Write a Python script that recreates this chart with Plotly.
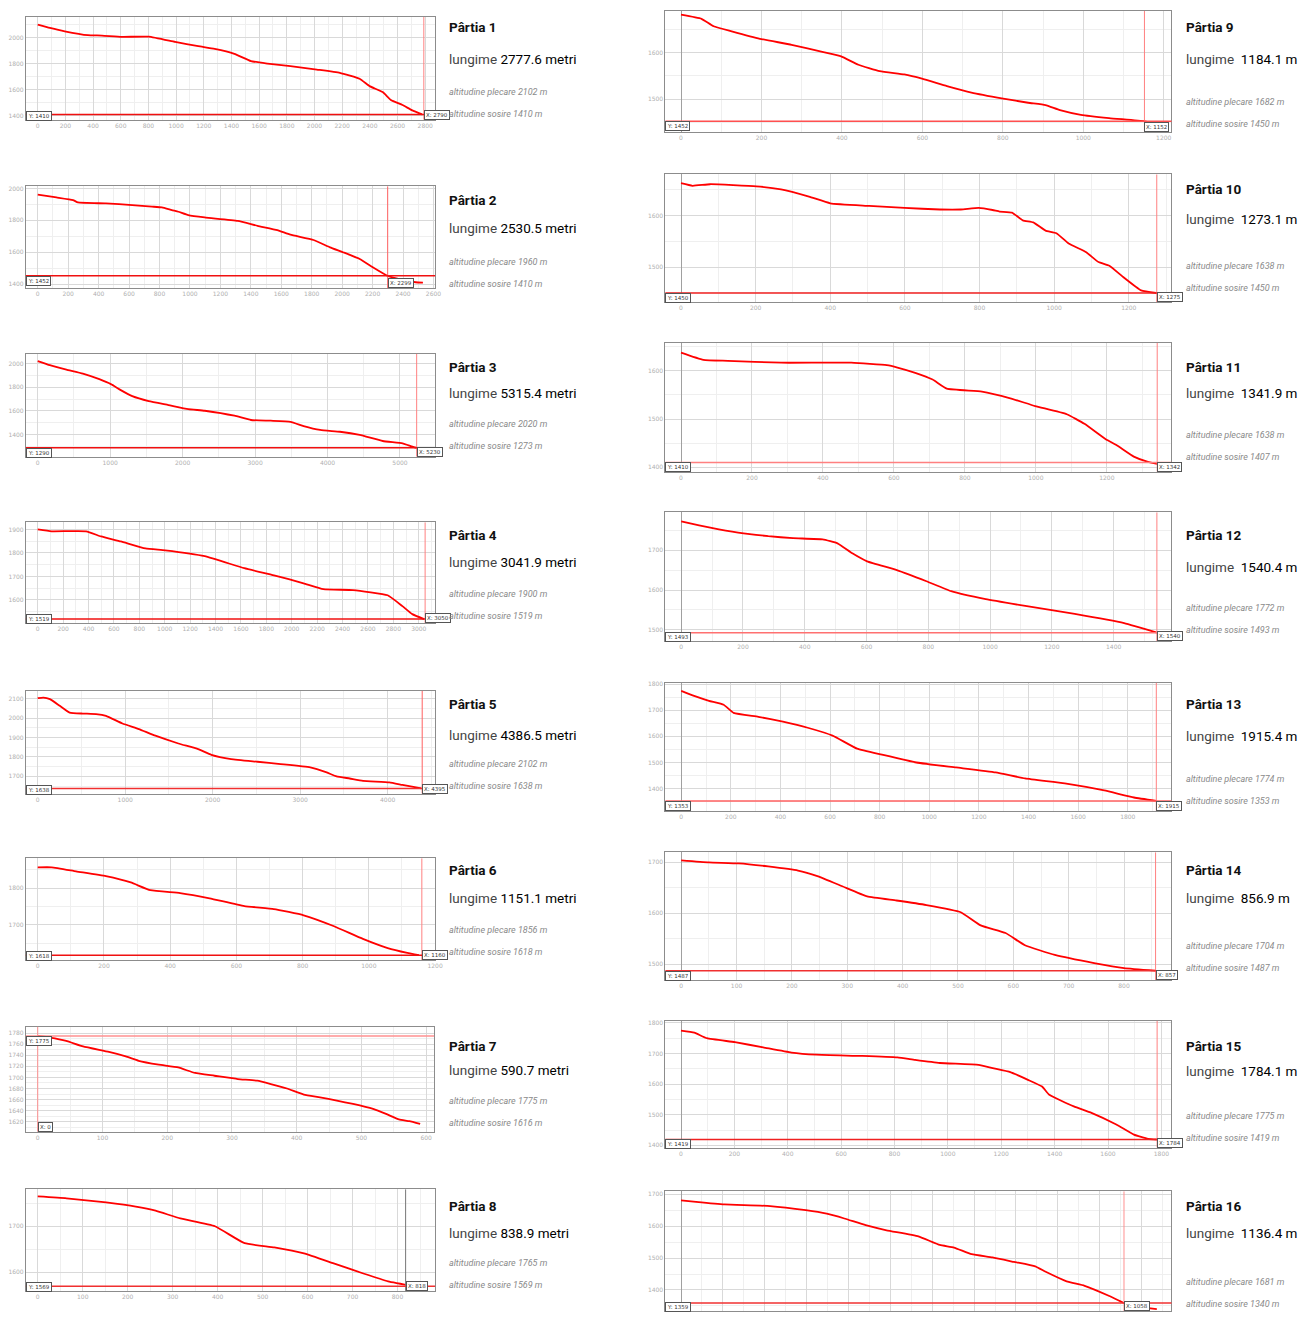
import plotly.graph_objects as go

# page body adds an 8px margin on every side: keep the figure inside the window
OFF = 8
PAGE_W, PAGE_H = 1313, 1320
W, H = PAGE_W - 2 * OFF, PAGE_H - 2 * OFF

# ---------------- data ----------------
NAMES = ["Pârtia 1", "Pârtia 2", "Pârtia 3", "Pârtia 4", "Pârtia 5", "Pârtia 6", "Pârtia 7", "Pârtia 8",
         "Pârtia 9", "Pârtia 10", "Pârtia 11", "Pârtia 12", "Pârtia 13", "Pârtia 14", "Pârtia 15", "Pârtia 16"]
LENGTHS = [2777.6, 2530.5, 5315.4, 3041.9, 4386.5, 1151.1, 590.7, 838.9,
           1184.1, 1273.1, 1341.9, 1540.4, 1915.4, 856.9, 1784.1, 1136.4]
LENGTH_UNIT = ["metri"] * 8 + ["m"] * 8
START_ALT = [2102, 1960, 2020, 1900, 2102, 1856, 1775, 1765, 1682, 1638, 1638, 1772, 1774, 1704, 1775, 1681]
END_ALT = [1410, 1410, 1273, 1519, 1638, 1618, 1616, 1569, 1450, 1450, 1407, 1493, 1353, 1487, 1419, 1340]
CURSOR_X = [2790, 2299, 5230, 3050, 4395, 1160, 0, 818, 1152, 1275, 1342, 1540, 1915, 857, 1784, 1058]
CURSOR_Y = [1410, 1452, 1290, 1519, 1638, 1618, 1775, 1569, 1452, 1450, 1410, 1493, 1353, 1487, 1419, 1359]

P1_DIST = [0, 88, 195, 362, 464, 607, 802, 993, 1160, 1279, 1421, 1541, 1660, 1826, 2017, 2183, 2326, 2398, 2493, 2552, 2636, 2707, 2777.6]
P1_ELEV = [2102, 2077, 2051, 2021, 2018, 2008, 2010, 1969, 1936, 1915, 1877, 1821, 1802, 1782, 1756, 1731, 1685, 1628, 1582, 1521, 1482, 1441, 1410]
P2_DIST = [0, 123, 232, 264, 448, 621, 751, 816, 881, 924, 989, 1097, 1314, 1444, 1574, 1660, 1812, 1920, 2006, 2115, 2201, 2299, 2396, 2483, 2530.5]
P2_ELEV = [1962, 1944, 1927, 1912, 1906, 1896, 1886, 1881, 1864, 1854, 1833, 1818, 1797, 1766, 1739, 1710, 1677, 1631, 1600, 1558, 1506, 1452, 1427, 1412, 1410]
P3_DIST = [0, 168, 396, 623, 850, 1010, 1146, 1305, 1532, 1805, 2078, 2306, 2715, 2943, 3216, 3489, 3670, 3898, 4171, 4444, 4762, 5035, 5171, 5298, 5315.4]
P3_ELEV = [2020, 1985, 1948, 1914, 1867, 1825, 1775, 1724, 1682, 1649, 1615, 1601, 1559, 1523, 1517, 1508, 1472, 1439, 1424, 1397, 1346, 1326, 1298, 1276, 1273]
P4_DIST = [0, 109, 381, 498, 654, 848, 1004, 1315, 1626, 1860, 2093, 2249, 2482, 2755, 2871, 2949, 3041.9]
P4_ELEV = [1900, 1892, 1892, 1870, 1849, 1819, 1811, 1786, 1735, 1705, 1671, 1646, 1642, 1620, 1574, 1540, 1519]
P5_DIST = [0, 64, 139, 252, 365, 516, 667, 780, 968, 1156, 1345, 1608, 1834, 1985, 2211, 2512, 2776, 3115, 3303, 3416, 3567, 3718, 4019, 4169, 4386.5]
P5_ELEV = [2102, 2105, 2097, 2063, 2028, 2023, 2020, 2011, 1972, 1943, 1909, 1869, 1840, 1811, 1789, 1775, 1763, 1746, 1720, 1700, 1689, 1677, 1669, 1656, 1638]
P6_DIST = [0, 42, 116, 206, 281, 340, 430, 519, 624, 713, 803, 893, 982, 1057, 1116, 1151.1]
P6_ELEV = [1856, 1856, 1845, 1832, 1815, 1794, 1786, 1772, 1751, 1743, 1726, 1697, 1662, 1637, 1624, 1618]
P7_DIST = [0, 19, 44, 70, 110, 136, 156, 187, 217, 243, 273, 309, 339, 360, 385, 411, 436, 462, 487, 518, 538, 558, 574, 590.7]
P7_ELEV = [1775, 1772, 1766, 1756, 1746, 1738, 1730, 1723, 1718, 1708, 1703, 1697, 1694, 1688, 1680, 1669, 1664, 1658, 1652, 1643, 1634, 1624, 1621, 1616]
P8_DIST = [0, 64, 152, 218, 262, 317, 394, 460, 526, 592, 658, 724, 779, 838.9]
P8_ELEV = [1765, 1761, 1752, 1743, 1734, 1717, 1700, 1663, 1654, 1641, 1619, 1597, 1580, 1569]
P9_DIST = [0, 51, 81, 126, 196, 275, 354, 398, 441, 494, 555, 599, 661, 722, 801, 863, 906, 942, 994, 1064, 1152, 1184.1]
P9_ELEV = [1682, 1673, 1657, 1646, 1630, 1617, 1601, 1592, 1574, 1560, 1553, 1544, 1528, 1514, 1501, 1492, 1487, 1476, 1466, 1459, 1452, 1447]
P10_DIST = [0, 31, 78, 202, 268, 343, 400, 504, 599, 694, 750, 798, 835, 854, 887, 916, 944, 977, 1006, 1039, 1086, 1119, 1148, 1185, 1233, 1273.1]
P10_ELEV = [1663, 1658, 1661, 1657, 1651, 1637, 1624, 1619, 1615, 1612, 1612, 1615, 1611, 1608, 1606, 1591, 1587, 1571, 1566, 1546, 1529, 1510, 1503, 1481, 1455, 1450]
P11_DIST = [0, 63, 132, 282, 480, 580, 610, 660, 709, 749, 848, 928, 998, 1087, 1137, 1197, 1227, 1276, 1316, 1341.9]
P11_ELEV = [1638, 1623, 1621, 1617, 1617, 1612, 1607, 1596, 1582, 1563, 1557, 1543, 1527, 1510, 1490, 1458, 1446, 1422, 1411, 1407]
P12_DIST = [0, 58, 122, 202, 282, 362, 458, 506, 554, 602, 698, 794, 874, 986, 1114, 1274, 1434, 1540.4]
P12_ELEV = [1772, 1762, 1752, 1742, 1735, 1730, 1727, 1717, 1692, 1672, 1650, 1622, 1597, 1577, 1560, 1540, 1517, 1493]
P13_DIST = [0, 52, 112, 171, 211, 311, 410, 510, 610, 709, 809, 948, 1108, 1267, 1386, 1546, 1705, 1825, 1915.4]
P13_ELEV = [1774, 1755, 1736, 1721, 1690, 1675, 1656, 1633, 1603, 1553, 1530, 1500, 1481, 1462, 1439, 1420, 1393, 1366, 1353]
P14_DIST = [0, 50, 104, 157, 211, 246, 291, 336, 389, 443, 505, 541, 586, 621, 675, 746, 800, 856.9]
P14_ELEV = [1704, 1700, 1698, 1692, 1684, 1673, 1653, 1633, 1625, 1616, 1602, 1576, 1561, 1537, 1518, 1502, 1492, 1487]
P15_DIST = [0, 50, 97, 202, 308, 414, 507, 679, 811, 877, 970, 1115, 1168, 1234, 1300, 1353, 1380, 1472, 1538, 1631, 1697, 1750, 1784.1]
P15_ELEV = [1775, 1768, 1750, 1737, 1720, 1703, 1696, 1692, 1687, 1679, 1669, 1663, 1652, 1639, 1614, 1592, 1565, 1527, 1506, 1468, 1435, 1421, 1419]
P16_DIST = [0, 36, 104, 213, 298, 348, 390, 441, 491, 567, 618, 652, 694, 744, 795, 846, 871, 921, 964, 1023, 1058, 1098, 1136.4]
P16_ELEV = [1681, 1676, 1668, 1663, 1650, 1639, 1624, 1603, 1587, 1568, 1541, 1533, 1512, 1502, 1488, 1474, 1457, 1427, 1413, 1381, 1359, 1346, 1340]

DISTS = [P1_DIST, P2_DIST, P3_DIST, P4_DIST, P5_DIST, P6_DIST, P7_DIST, P8_DIST,
         P9_DIST, P10_DIST, P11_DIST, P12_DIST, P13_DIST, P14_DIST, P15_DIST, P16_DIST]
ELEVS = [P1_ELEV, P2_ELEV, P3_ELEV, P4_ELEV, P5_ELEV, P6_ELEV, P7_ELEV, P8_ELEV,
         P9_ELEV, P10_ELEV, P11_ELEV, P12_ELEV, P13_ELEV, P14_ELEV, P15_ELEV, P16_ELEV]

# ---------------- layout calibration (page pixels) ----------------
# frame (left, top, right, bottom), x-zero px, px per m (x), y reference value, its px, px per m (y), x step, y step
PANELS = [
    ((19, 14, 433, 117), 31, 0.14, 2000, 35, 0.13, 200, 200),
    ((19, 184, 433, 286), 31, 0.154, 1400, 282, 0.16, 200, 200),
    ((19, 352, 433, 455), 31, 0.0733, 2000, 361.5, 0.119, 1000, 200),
    ((19, 521, 433, 622), 31, 0.1285, 1900, 528, 0.236, 200, 100),
    ((19, 690, 433, 793), 31, 0.0885, 2100, 697.7, 0.195, 1000, 100),
    ((19, 858, 433, 960), 31, 0.335, 1800, 887.7, 0.37, 200, 100),
    ((19, 1027, 432, 1132), 31, 0.655, 1780, 1033.3, 0.555, 100, 20),
    ((19, 1190, 433, 1292), 31, 0.455, 1700, 1227, 0.46, 100, 100),
    ((666, 3, 1178, 129), 681.8, 0.407, 1700, 3.3, 0.465, 200, 100),
    ((666, 172, 1178, 300), 681.8, 0.3775, 1600, 213.3, 0.517, 200, 100),
    ((666, 341, 1178, 470), 681.8, 0.359, 1600, 369, 0.483, 200, 100),
    ((666, 511, 1178, 640), 682, 0.3125, 1700, 548.8, 0.4, 200, 100),
    ((666, 682, 1178, 810), 682, 0.251, 1800, 683.2, 0.262, 200, 100),
    ((666, 852, 1178, 980), 682, 0.56, 1700, 862, 0.51, 100, 100),
    ((666, 1021, 1178, 1148), 681.8, 0.27, 1800, 1023, 0.307, 200, 100),
    ((666, 1192, 1178, 1318), 681.8, 0.4236, 1700, 1194.9, 0.32, 100, 100),
]
# text rows (title, length, plecare, sosire) y positions in page px
TEXT_Y = [
    (24, 56, 89, 111), (198, 226, 260, 282), (365, 391, 422, 444), (534, 561, 593, 615),
    (703, 734, 763, 785), (870, 898, 930, 952), (1046, 1070, 1101, 1123), (1207, 1234, 1264, 1286),
    (24, 56, 99, 121), (187, 217, 264, 286), (365, 391, 433, 455), (534, 566, 607, 629),
    (703, 735, 778, 800), (870, 898, 946, 968), (1046, 1071, 1116, 1138), (1207, 1234, 1283, 1305),
]
VLINE_COLOR = ["#ff8080", "#ff6060", "#ff8080", "#ff8080", "#ff6060", "#ff8080", "#ff9090", "#777777",
               "#ff8080", "#ff8080", "#ff8080", "#ff8080", "#ff8080", "#ff8080", "#ff8080", "#ff9090"]
HLINE_COLOR = ["#f01010", "#f01010", "#f01010", "#f01010", "#f03030", "#f01010", "#ff9090", "#f03030",
               "#ff5050", "#f02020", "#ff8080", "#ff7070", "#ff6060", "#f03030", "#f02020", "#f03030"]

FONT = "Roboto, Liberation Sans, sans-serif"

fig = go.Figure()
layout = dict(width=W, height=H, margin=dict(l=0, r=0, t=0, b=0),
              paper_bgcolor="white", plot_bgcolor="white", showlegend=False)
annotations = []
shapes = []


def px2x(p):
    return min(1.0, max(0.0, (p - OFF) / W))


def px2y(p):
    return min(1.0, max(0.0, 1 - (p - OFF) / H))


for i in range(16):
    n = i + 1
    (l, t, r, b), x0, kx, yref, yrefpx, ky, xs, ys = PANELS[i]
    t = max(t, OFF)
    b = min(b, OFF + H)
    xr = [(l - x0) / kx, (r - x0) / kx]
    yr = [yref + (yrefpx - b) / ky, yref + (yrefpx - t) / ky]
    xa = "xaxis" if n == 1 else f"xaxis{n}"
    ya = "yaxis" if n == 1 else f"yaxis{n}"
    xid = "x" if n == 1 else f"x{n}"
    yid = "y" if n == 1 else f"y{n}"
    right_col = i >= 8
    layout[xa] = dict(domain=[px2x(l), px2x(r)], range=xr, anchor=yid, tick0=0, dtick=xs,
                      showline=True, mirror=True, linecolor="#8c8c8c", linewidth=1,
                      showgrid=True, gridcolor="#d9d9d9", gridwidth=1,
                      minor=dict(dtick=xs / 2, showgrid=True, gridcolor="#efefef"),
                      zeroline=right_col, zerolinecolor="#a0a0a0", zerolinewidth=1,
                      ticks="", showticklabels=(n != 16),
                      tickfont=dict(size=6, color="#b0b0b0", family="DejaVu Sans"),
                      fixedrange=True)
    layout[ya] = dict(domain=[px2y(b), px2y(t)], range=yr, anchor=xid, tick0=0, dtick=ys,
                      showline=True, mirror=True, linecolor="#8c8c8c", linewidth=1,
                      showgrid=True, gridcolor="#d9d9d9", gridwidth=1,
                      minor=dict(dtick=ys / 2, showgrid=True, gridcolor="#efefef"),
                      zeroline=False, ticks="",
                      tickfont=dict(size=6, color="#b0b0b0", family="DejaVu Sans"),
                      fixedrange=True)

    # cursor lines
    shapes.append(dict(type="line", xref=xid, yref=f"{yid} domain", x0=CURSOR_X[i], x1=CURSOR_X[i],
                       y0=0, y1=1, line=dict(color=VLINE_COLOR[i], width=1)))
    shapes.append(dict(type="line", xref=f"{xid} domain", yref=yid, x0=0, x1=1,
                       y0=CURSOR_Y[i], y1=CURSOR_Y[i], line=dict(color=HLINE_COLOR[i], width=1.5)))

    fig.add_trace(go.Scatter(x=DISTS[i], y=ELEVS[i], mode="lines",
                             line=dict(color="#ff0000", width=1.8, shape="spline", smoothing=0.4),
                             xaxis=xid, yaxis=yid, hoverinfo="skip"))

    # cursor boxes (left box kept inside the frame)
    box_top = max(CURSOR_Y[i], yr[0] + 9 / ky)
    annotations.append(dict(xref=f"{xid} domain", yref=yid, x=0, y=box_top, xanchor="left", yanchor="top",
                            text=f"Y: {CURSOR_Y[i]}", showarrow=False, bgcolor="white",
                            bordercolor="#555555", borderwidth=1, borderpad=1,
                            font=dict(size=5.5, color="#333333", family="DejaVu Sans")))
    annotations.append(dict(xref=xid, yref=f"{yid} domain", x=CURSOR_X[i], y=0, xanchor="left", yanchor="bottom",
                            text=f"X: {CURSOR_X[i]}", showarrow=False, bgcolor="white",
                            bordercolor="#555555", borderwidth=1, borderpad=1,
                            font=dict(size=5.5, color="#333333", family="DejaVu Sans")))

    # texts
    tx = 445 if i < 8 else 1191
    ty = TEXT_Y[i]
    sep = " " if i < 8 else "  "
    annotations.append(dict(xref="paper", yref="paper", x=px2x(tx), y=px2y(ty[0]), xanchor="left",
                            yanchor="middle", showarrow=False, text=f"<b>{NAMES[i]}</b>",
                            font=dict(size=13.5, color="#111111", family=FONT)))
    annotations.append(dict(xref="paper", yref="paper", x=px2x(tx), y=px2y(ty[1]), xanchor="left",
                            yanchor="middle", showarrow=False,
                            text=f"<span style='color:#444444'>lungime</span>{sep}{LENGTHS[i]} {LENGTH_UNIT[i]}",
                            font=dict(size=13.5, color="#000000", family=FONT)))
    annotations.append(dict(xref="paper", yref="paper", x=px2x(tx), y=px2y(ty[2]), xanchor="left",
                            yanchor="middle", showarrow=False,
                            text=f"<i>altitudine plecare {START_ALT[i]} m</i>",
                            font=dict(size=9, color="#8a8a8a", family=FONT)))
    annotations.append(dict(xref="paper", yref="paper", x=px2x(tx), y=px2y(ty[3]), xanchor="left",
                            yanchor="middle", showarrow=False,
                            text=f"<i>altitudine sosire {END_ALT[i]} m</i>",
                            font=dict(size=9, color="#8a8a8a", family=FONT)))

layout["annotations"] = annotations
layout["shapes"] = shapes
fig.update_layout(**layout)
fig.write_html("out.html")
